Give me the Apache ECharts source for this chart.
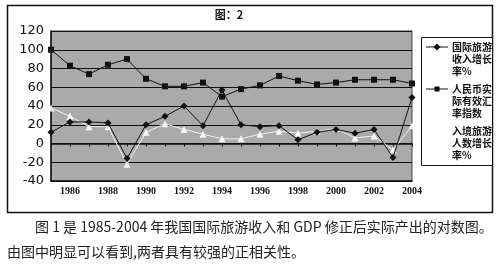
<!DOCTYPE html>
<html>
<head>
<meta charset="utf-8">
<script src="https://cdn.jsdelivr.net/npm/echarts@6/dist/echarts.min.js"></script>
<style>
html,body{margin:0;padding:0;background:#fff;}
#chart{width:500px;height:268px;}
</style>
</head>
<body>
<div id="chart"></div>
<script>
var years = ['1985','1986','1987','1988','1989','1990','1991','1992','1993','1994','1995','1996','1997','1998','1999','2000','2001','2002','2003','2004'];
var incomeGrowth = [12, 23, 23, 22, -16, 20, 29, 40, 19, 57, 20, 18, 19, 4, 12, 15, 11, 15, -15, 49];
var exchangeIndex = [100, 83, 74, 84, 90, 69, 61, 61, 65, 50, 58, 62, 72, 67, 63, 65, 68, 68, 68, 64];
var arrivalGrowth = [38, 29, 18, 18, -22, 12, 21, 15, 10, 5, 5, 10, 13, 11, 13, 16, 6, 8, -7, 19];
var seriesNames = ['国际旅游收入增长率%', '人民币实际有效汇率指数', '入境旅游人数增长率%'];
var legendLines = [['国际旅游','收入增长','率%'], ['人民币实','际有效汇','率指数'], ['入境旅游','人数增长','率%']];
var titleText = '图：2';
var captionLines = ['图 1 是 1985-2004 年我国国际旅游收入和 GDP 修正后实际产出的对数图。', '由图中明显可以看到,两者具有较强的正相关性。'];

var chart = echarts.init(document.getElementById('chart'), null, {renderer:'canvas'});

var graphics = [
  {type:'rect', shape:{x:7.5,y:5.5,width:485,height:207}, style:{fill:'none', stroke:'#111', lineWidth:1.5}, z:-10},
  {type:'text', x:229, y:15, style:{text:titleText, font:'bold 11px "Noto Sans CJK SC"', fill:'#111', align:'center', verticalAlign:'middle'}},
  {type:'rect', shape:{x:421.5,y:37.5,width:71,height:128}, style:{fill:'#fff', stroke:'#111', lineWidth:1}},
  {type:'text', x:35, y:227, style:{text:captionLines[0], font:'14px "Noto Sans CJK SC"', fill:'#222', verticalAlign:'middle'}},
  {type:'text', x:7, y:252, style:{text:captionLines[1], font:'14px "Noto Sans CJK SC"', fill:'#222', verticalAlign:'middle'}}
];
var legendY = [47, 89, 131];
for (var i = 0; i < 3; i++) {
  var y0 = legendY[i];
  var col = i === 2 ? '#ffffff' : '#111';
  graphics.push({type:'line', shape:{x1:426,y1:y0,x2:448,y2:y0}, style:{stroke:col, lineWidth:1}});
  if (i === 0) graphics.push({type:'polygon', shape:{points:[[437,y0-3.5],[440.5,y0],[437,y0+3.5],[433.5,y0]]}, style:{fill:col}});
  if (i === 1) graphics.push({type:'rect', shape:{x:434.5,y:y0-2.5,width:5,height:5}, style:{fill:col}});
  for (var j = 0; j < legendLines[i].length; j++) {
    graphics.push({type:'text', x:452, y:y0 + j*12, style:{text:legendLines[i][j], font:'bold 10px "Noto Sans CJK SC"', fill:'#111', verticalAlign:'middle'}});
  }
}

chart.setOption({
  animation:false,
  backgroundColor:'#fff',
  grid:{left:51, top:31, right:88, bottom:87, show:true, backgroundColor:'#aaaaaa', borderColor:'#444', borderWidth:1},
  xAxis:[{
    type:'category', data:years, boundaryGap:false, position:'bottom',
    axisLine:{show:true, onZero:false, lineStyle:{color:'#111', width:1.5}},
    axisTick:{show:false},
    axisLabel:{interval:function(idx){return idx % 2 === 1;}, margin:5, color:'#111', fontFamily:'Liberation Serif', fontWeight:'bold', fontSize:10},
    splitLine:{show:false}
  },{
    type:'category', data:years, boundaryGap:false, position:'bottom',
    axisLine:{show:true, onZero:true, lineStyle:{color:'#111', width:1.5}},
    axisTick:{show:true, interval:0, length:3, lineStyle:{color:'#111'}},
    axisLabel:{show:false},
    splitLine:{show:false}
  }],
  yAxis:{
    type:'value', min:-40, max:120, interval:20,
    axisLine:{show:true, lineStyle:{color:'#111', width:1.5}},
    axisTick:{show:false},
    axisLabel:{margin:7, color:'#111', fontFamily:'DejaVu Sans', fontSize:13},
    splitLine:{show:true, lineStyle:{color:'#111', width:1}}
  },
  series:[
    {name:seriesNames[0], type:'line', data:incomeGrowth, symbol:'diamond', symbolSize:7, lineStyle:{color:'#111', width:1}, itemStyle:{color:'#111'}, z:5},
    {name:seriesNames[1], type:'line', data:exchangeIndex, symbol:'rect', symbolSize:6, lineStyle:{color:'#111', width:1}, itemStyle:{color:'#111'}, z:4},
    {name:seriesNames[2], type:'line', data:arrivalGrowth, symbol:'triangle', symbolSize:7, lineStyle:{color:'#f2f2f2', width:1}, itemStyle:{color:'#f7f7f7'}, z:3}
  ],
  graphic:graphics
});
</script>
</body>
</html>
